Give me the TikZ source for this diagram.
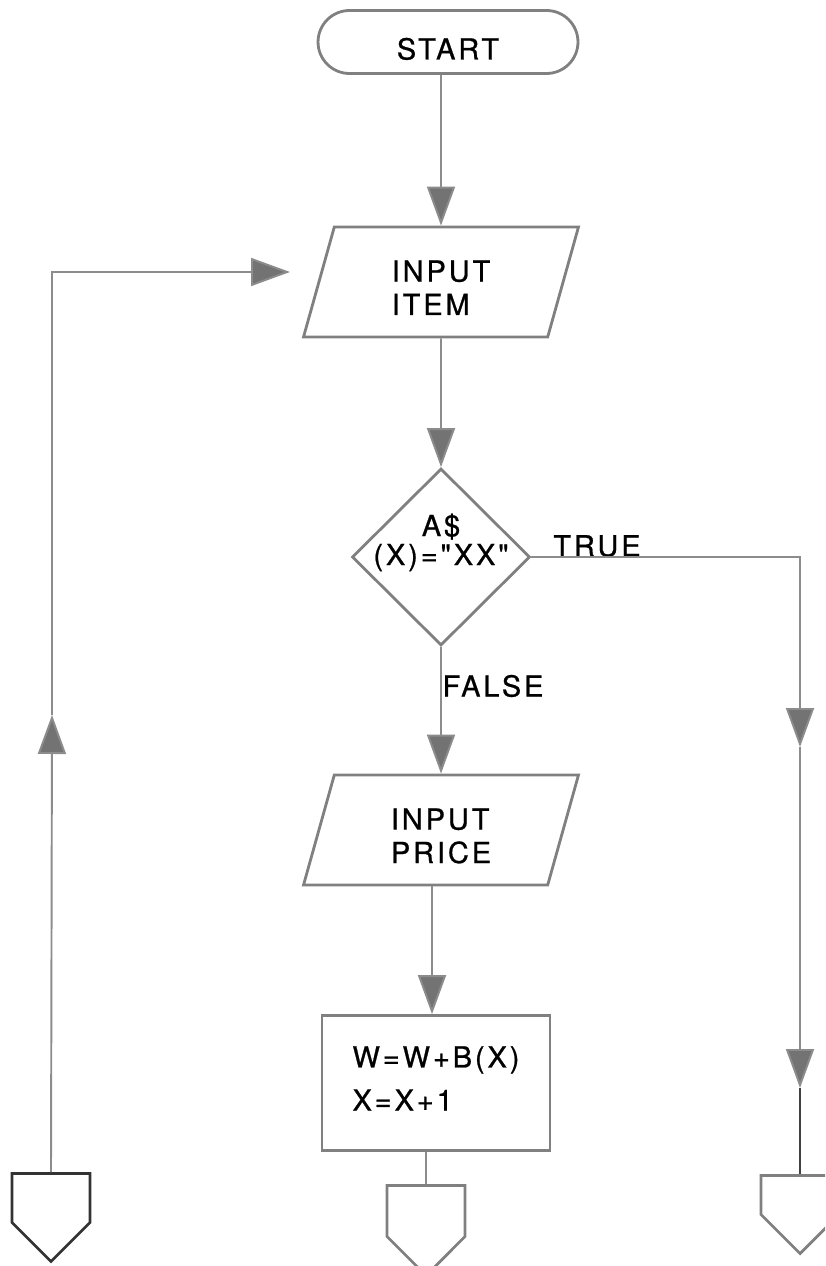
\documentclass[tikz,border=0pt]{standalone}
\usepackage{fontspec}
\setmainfont{TeX Gyre Heros}[LetterSpace=10,Ligatures=TeXOff,FakeBold=0.8]
\usetikzlibrary{shapes.geometric,shapes.symbols,arrows.meta}
\definecolor{linegray}{gray}{0.55}
\definecolor{boxgray}{gray}{0.5}
\definecolor{tipgray}{gray}{0.45}

\begin{document}
\begin{tikzpicture}[x=0.02cm,y=-0.02cm,
    >={Triangle[length=0.78cm,width=0.56cm,fill=tipgray]},
    flow/.style={draw=linegray,line width=1.1pt},
    base node/.style={draw=boxgray,line width=1.6pt,inner sep=0pt,font=\fontsize{16.5}{21.5}\selectfont},
    term node/.style={base node,rectangle,rounded corners=0.63cm,minimum width=5.2cm,minimum height=1.26cm,
      text height=0.7cm,text depth=0cm},
    io node/.style={base node,trapezium,trapezium left angle=65,trapezium right angle=115,
      trapezium stretches body,minimum width=5.5cm,minimum height=2.2cm,align=left,
      font=\fontsize{16.5}{19}\selectfont,text height=1.32cm,text depth=0cm},
    dec node/.style={base node,diamond,minimum width=3.56cm,minimum height=3.54cm,align=center,
      font=\fontsize{16.5}{16.5}\selectfont,text height=0.32cm,text depth=0cm},
    proc node/.style={base node,rectangle,minimum width=4.56cm,minimum height=2.7cm,align=left,
      font=\fontsize{16.5}{21.5}\selectfont,text height=1.1cm,text depth=0cm},
    conn node/.style={base node,signal,signal to=south,signal from=nowhere,signal pointer angle=90,
      minimum width=1.56cm},
    lbl/.style={inner sep=0pt,font=\fontsize{16.5}{20}\selectfont}]
  \useasboundingbox (0,0) rectangle (825,1266);
  \clip (0,0) rectangle (825,1266);

  % main column
  \node[term node] (start) at (448,42) {START};
  \node[io node] (item) at (441,282) {INPUT\\ITEM};
  \node[dec node] (test) at (441,557) {A\$\\(X)="XX"};
  \node[io node] (price) at (441,830) {INPUT\\PRICE};
  \node[proc node] (sum) at (436,1083) {W=W+B(X)\\[3pt]X=X+1};

  % off-page connectors
  \node[conn node,draw=black!80,minimum height=0.98cm] (cl) at (51,1198) {};
  \node[conn node,minimum height=1.02cm] (cm) at (426,1211) {};
  \node[conn node,minimum height=0.78cm] (cr) at (800,1195) {};

  \node[lbl] (true) at (597,546) {TRUE};
  \node[lbl] (false) at (493,686) {FALSE};

  \coordinate (lup) at (52,715);
  \coordinate (ltop) at (52,272);
  \coordinate (lend) at (290,272);
  \coordinate (r1) at (800,747);
  \coordinate (r2) at (800,1088);

  \draw[flow,->] (start.south -| item.north) -- (item.north);
  \draw[flow,->] (item.south) -- (test.north);
  \draw[flow,->] (test.south) -- (price.north);
  \draw[flow,->] (price.south -| 432,0) -- (sum.north -| 432,0);
  \draw[flow] (sum.south -| cm.north) -- (cm.north);

  % loop back to INPUT ITEM
  \draw[flow,->] (cl.north) -- (lup);
  \draw[flow,->] (lup) -- (ltop) -- (lend);

  % TRUE branch
  \draw[flow,->] (test.east) -- (test.east -| r1) -- (r1);
  \draw[flow,->] (r1) -- (r2);
  \draw[flow,draw=black!75] (r2) -- (cr.north);
\end{tikzpicture}
\end{document}
